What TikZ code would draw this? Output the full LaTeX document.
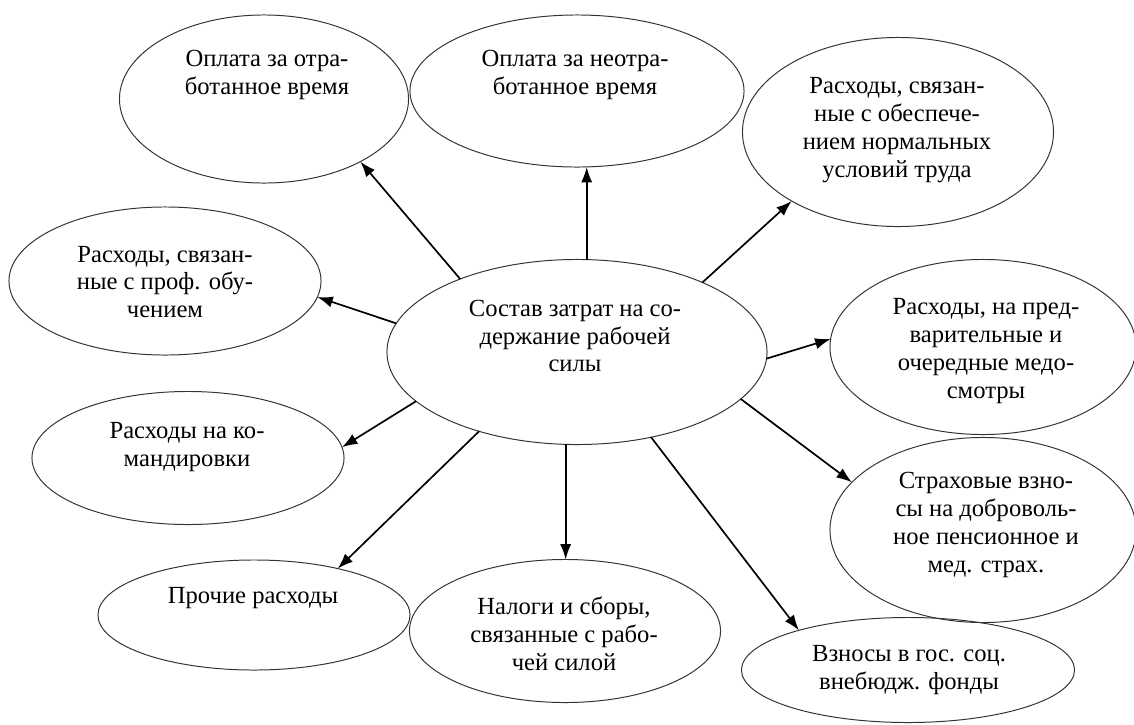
\documentclass[tikz,border=0pt]{standalone}
\usepackage{fontspec}
\setmainfont{Liberation Serif}
\usepackage{tikz}
\usetikzlibrary{shapes.geometric}
\usetikzlibrary{arrows.meta}

\begin{document}
\begin{tikzpicture}[x=0.025cm,y=-0.025cm,
    oval/.style={ellipse,draw=black!80,line width=0.7pt,inner sep=0pt,outer sep=0pt},
    txt/.style={align=center,inner sep=0pt,font=\fontsize{17.5}{19.8}\selectfont},
    link/.style={-{Latex[length=11pt,width=8pt]},line width=1.2pt}]
  \useasboundingbox (0,0) rectangle (1134,725);
  % centre
  \node[oval,minimum width=9.5cm,minimum height=4.625cm] (cost) at (577,352) {};
  \node[txt] (costtxt) at (575,336) {Состав затрат на со-\\держание рабочей\\силы};
  % top row
  \node[oval,minimum width=7.225cm,minimum height=4.2cm] (paid) at (264,99) {};
  \node[txt] (paidtxt) at (267,75) {Оплата за отра-\\ботанное время};
  \node[oval,minimum width=8.35cm,minimum height=3.8cm] (unpaid) at (577,91) {};
  \node[txt] (unpaidtxt) at (575,75) {Оплата за неотра-\\ботанное время};
  \node[oval,minimum width=7.775cm,minimum height=4.725cm] (cond) at (898,132) {};
  \node[txt] (condtxt) at (897,130) {Расходы, связан-\\ные с обеспече-\\нием нормальных\\условий труда};
  % right side
  \node[oval,minimum width=7.65cm,minimum height=4.375cm] (med) at (983,347) {};
  \node[txt] (medtxt) at (986,351) {Расходы, на пред-\\варительные и\\очередные медо-\\смотры};
  \node[oval,minimum width=7.65cm,minimum height=4.625cm] (ins) at (983,530) {};
  \node[txt] (instxt) at (986,525) {Страховые взно-\\сы на доброволь-\\ное пенсионное и\\мед. страх.};
  % bottom row
  \node[oval,minimum width=8.325cm,minimum height=2.625cm] (funds) at (908,670) {};
  \node[txt] (fundstxt) at (909,670) {Взносы в гос. соц.\\внебюдж. фонды};
  \node[oval,minimum width=7.775cm,minimum height=3.575cm] (taxes) at (565,631) {};
  \node[txt] (taxestxt) at (564,634) {Налоги и сборы,\\связанные с рабо-\\чей силой};
  \node[oval,minimum width=7.8cm,minimum height=2.75cm] (other) at (254,615) {};
  \node[txt] (othertxt) at (253,598) {Прочие расходы};
  % left side
  \node[oval,minimum width=7.8cm,minimum height=3.325cm] (trips) at (188,458) {};
  \node[txt] (tripstxt) at (187,447) {Расходы на ко-\\мандировки};
  \node[oval,minimum width=7.8cm,minimum height=3.7cm] (train) at (165,281) {};
  \node[txt] (traintxt) at (165,282) {Расходы, связан-\\ные с проф. обу-\\чением};
  % arrows
  \draw[link] (cost.148) -- (paid.-33);
  \draw[link] (cost.84) -- (cost.84 |- unpaid.south);
  \draw[link] (cost.29) -- (cond.213);
  \draw[link] (cost.-2) -- (med.177);
  \draw[link] (cost.-16) -- (ins.160);
  \draw[link] (cost.-49) -- (funds.160);
  \draw[link] (cost.-97) -- (cost.-97 |- taxes.north);
  \draw[link] (cost.219) -- (other.29);
  \draw[link] (cost.197) -- (trips.4);
  \draw[link] (cost.171) -- (train.-6);
\end{tikzpicture}
\end{document}
